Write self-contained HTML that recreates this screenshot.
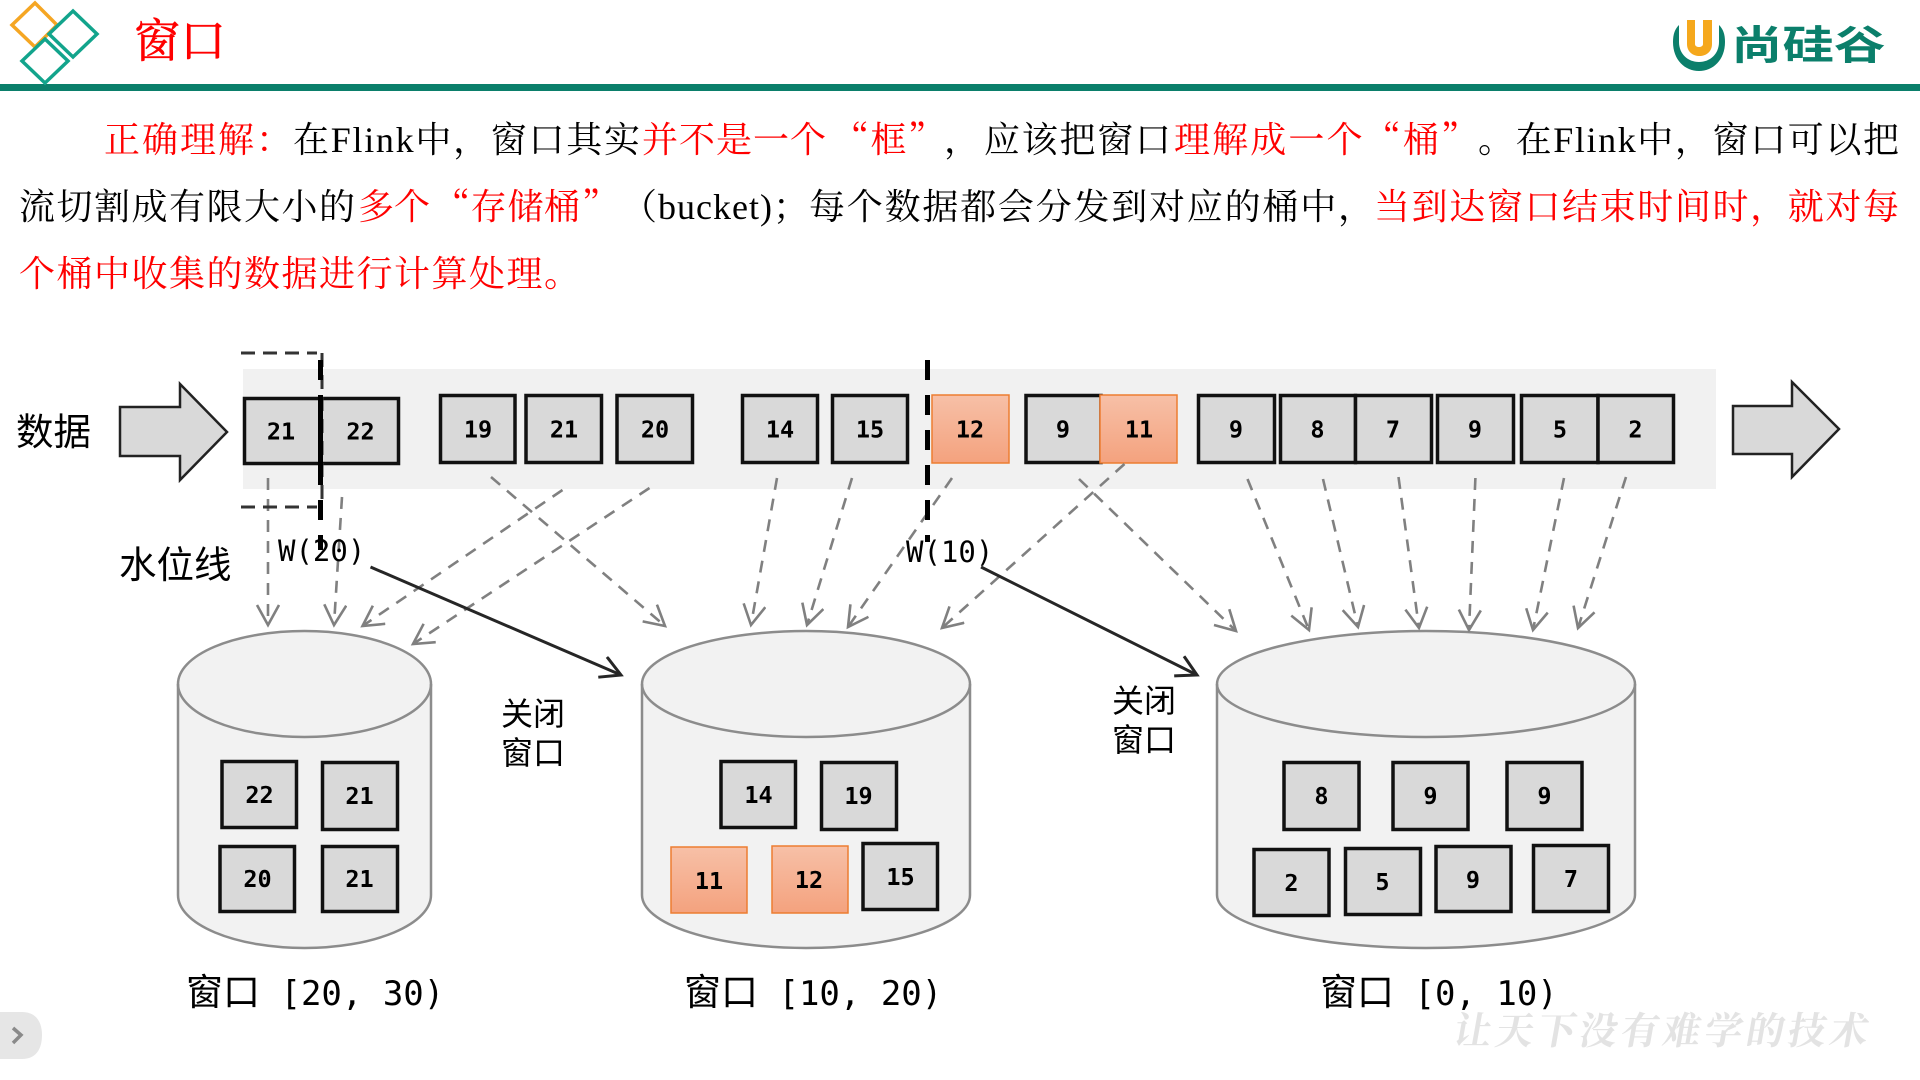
<!DOCTYPE html>
<html lang="zh-CN">
<head>
<meta charset="utf-8">
<title>窗口</title>
<style>
html,body{margin:0;padding:0;background:#fff;}
body{width:1920px;height:1080px;position:relative;overflow:hidden;}
svg{position:absolute;left:0;top:0;}
.p text{font-family:"Liberation Serif","Noto Serif CJK SC",serif;font-size:36px;fill:#000;}
.p text.r{fill:#f00;}
.p text.q,.p tspan.q{font-family:"Noto Serif CJK SC",serif;}
.b rect{fill:#d9d9d9;stroke:#111;stroke-width:3.5;}
.o rect{fill:url(#og);stroke:#ed7d31;stroke-width:1.5;}
.t text{font-family:"DejaVu Sans Mono",monospace;font-weight:bold;font-size:23.5px;text-anchor:middle;fill:#000;}
.d line{stroke:#808080;stroke-width:2.6;stroke-dasharray:12 9;marker-end:url(#mg);}
.lb{font-family:"Liberation Sans","Noto Sans CJK SC",sans-serif;fill:#000;}
.m{font-family:"DejaVu Sans Mono",monospace;fill:#000;}
.cap{font-family:"DejaVu Sans Mono","Noto Sans CJK SC",monospace;font-size:34px;fill:#000;}
.cj{font-family:"Noto Sans CJK SC",sans-serif;font-size:37px;}
</style>
</head>
<body>
<svg width="1920" height="1080" viewBox="0 0 1920 1080" xmlns="http://www.w3.org/2000/svg">
<defs>
<linearGradient id="og" x1="0" y1="0" x2="0" y2="1"><stop offset="0" stop-color="#f7c0a7"/><stop offset="1" stop-color="#f4a27e"/></linearGradient>
<marker id="mg" markerUnits="userSpaceOnUse" markerWidth="32" markerHeight="32" refX="22" refY="12" orient="auto"><path d="M2 1 L22 12 L2 23" fill="none" stroke="#808080" stroke-width="2.6"/></marker>
<marker id="mk" markerUnits="userSpaceOnUse" markerWidth="32" markerHeight="32" refX="22" refY="12" orient="auto"><path d="M2 1 L22 12 L2 23" fill="none" stroke="#262626" stroke-width="3"/></marker>
</defs>

<!-- header -->
<rect x="0" y="84" width="1920" height="7" fill="#0b7f6b"/>
<polygon points="35,3 57,25 35,47 12,25" fill="none" stroke="#f5a623" stroke-width="3.5"/>
<polygon points="73,11 97,34 73,57 49,34" fill="none" stroke="#12a48c" stroke-width="3.5"/>
<polygon points="45,39 68,61 45,83 22,61" fill="none" stroke="#12a48c" stroke-width="3.5"/>
<text x="134" y="57" font-family="'Noto Serif CJK SC',serif" font-size="46" fill="#f00" stroke="#f00" stroke-width="0.6">窗口</text>

<!-- logo -->
<path d="M1673 42 C1673 60 1685 71 1699 71 C1713 71 1725 60 1725 42 C1725 34 1723 29 1719 25 L1719 42 C1719 54 1710 62 1699 62 C1688 62 1679 54 1679 42 L1679 25 C1675 29 1673 34 1673 42 Z" fill="#0b7f6b"/>
<path d="M1687 20 L1695 20 L1695 44 C1695 48 1703 48 1703 44 L1703 20 L1712 20 L1712 44 C1712 60 1687 60 1687 44 Z" fill="#f5a81c"/>
<text transform="translate(1731 59) scale(1.03 .8)" x="0" y="0" font-family="'Noto Sans CJK SC',sans-serif" font-weight="bold" font-size="50" fill="#0b7f6b">尚硅谷</text>

<!-- paragraph -->
<g class="p">
<text class="r" x="104" y="152" textLength="188">正确理解：</text>
<text x="293" y="152" textLength="347">在Flink中，窗口其实</text>
<text class="r" x="642" y="152" textLength="184">并不是一个</text>
<text class="r q" x="833" y="152" textLength="111">“框”</text>
<text class="q" x="944" y="152">，</text>
<text x="984" y="152" textLength="187">应该把窗口</text>
<text class="r" x="1174" y="152" textLength="303">理解成一个<tspan class="q">“</tspan>桶<tspan class="q">”</tspan></text>
<text x="1478" y="152" textLength="421">。在Flink中，窗口可以把</text>

<text x="19" y="219" textLength="336">流切割成有限大小的</text>
<text class="r" x="358" y="219" textLength="72">多个</text>
<text class="r q" x="434" y="219" textLength="146">“存储桶</text>
<text class="r q" x="582" y="219">”</text>
<text x="621" y="219" textLength="188">（bucket)；</text>
<text x="809" y="219" textLength="565">每个数据都会分发到对应的桶中，</text>
<text class="r" x="1374" y="219" textLength="525">当到达窗口结束时间时，就对每</text>

<text class="r" x="19" y="286" textLength="561">个桶中收集的数据进行计算处理。</text>
</g>

<!-- band -->
<rect x="243" y="369" width="1473" height="120" fill="#f1f1f1"/>

<!-- big arrows -->
<polygon points="120,407 180,407 180,384 227,432 180,480 180,456 120,456" fill="#d9d9d9" stroke="#222" stroke-width="2.5"/>
<polygon points="1733,406 1792,406 1792,382 1839,429 1792,477 1792,454 1733,454" fill="#d9d9d9" stroke="#222" stroke-width="2.5"/>

<!-- cylinders -->
<g fill="#f2f2f2" stroke="#8c8c8c" stroke-width="2.5">
<path d="M178 684 A126.500 53 0 0 1 431 684 L431 895 A126.500 53 0 0 1 178 895 Z"/>
<path d="M178 684 A126.500 53 0 0 0 431 684" fill="none"/>
<path d="M642 684 A164 53 0 0 1 970 684 L970 895 A164 53 0 0 1 642 895 Z"/>
<path d="M642 684 A164 53 0 0 0 970 684" fill="none"/>
<path d="M1217 684 A209 53 0 0 1 1635 684 L1635 895 A209 53 0 0 1 1217 895 Z"/>
<path d="M1217 684 A209 53 0 0 0 1635 684" fill="none"/>
</g>

<!-- stream boxes -->
<g class="b">
<rect x="244.500" y="398.500" width="75.500" height="65"/>
<rect x="320" y="398.500" width="78.500" height="65"/>
<rect x="440.500" y="395.500" width="74.500" height="67"/>
<rect x="526" y="395.500" width="75.500" height="67"/>
<rect x="617" y="395.500" width="75.500" height="67"/>
<rect x="742.500" y="395.500" width="75" height="67"/>
<rect x="832.500" y="395.500" width="75" height="67"/>
<rect x="1026" y="395.500" width="75" height="67"/>
<rect x="1198.500" y="395.500" width="76" height="67"/>
<rect x="1280.500" y="395.500" width="75" height="67"/>
<rect x="1355.500" y="395.500" width="76" height="67"/>
<rect x="1437.500" y="395.500" width="76" height="67"/>
<rect x="1521.500" y="395.500" width="76.500" height="67"/>
<rect x="1598" y="395.500" width="75.500" height="67"/>
</g>
<g class="o">
<rect x="932" y="395" width="77" height="68"/>
<rect x="1100" y="395" width="77" height="68"/>
</g>

<!-- bucket boxes -->
<g class="b">
<rect x="222" y="761.500" width="74.500" height="66"/>
<rect x="322.500" y="762.500" width="75" height="67"/>
<rect x="220" y="846.500" width="74.500" height="65"/>
<rect x="322.500" y="846.500" width="75" height="65"/>
<rect x="721" y="761.500" width="74.500" height="66"/>
<rect x="821.500" y="762.500" width="75" height="67"/>
<rect x="863" y="843.500" width="74.500" height="66"/>
<rect x="1284" y="762.500" width="75" height="67"/>
<rect x="1393" y="762.500" width="75" height="67"/>
<rect x="1507" y="762.500" width="75" height="67"/>
<rect x="1254" y="849.500" width="75" height="66"/>
<rect x="1345.500" y="848.500" width="75" height="66"/>
<rect x="1436" y="846.500" width="75" height="65"/>
<rect x="1533.500" y="845.500" width="75" height="66"/>
</g>
<g class="o">
<rect x="671" y="847" width="76" height="66"/>
<rect x="772" y="846" width="76" height="67"/>
</g>

<!-- box labels -->
<g class="t">
<text x="281" y="439.500">21</text>
<text x="360.500" y="439.500">22</text>
<text x="478" y="437.500">19</text>
<text x="564" y="437.500">21</text>
<text x="655" y="437.500">20</text>
<text x="780" y="437.500">14</text>
<text x="870" y="437.500">15</text>
<text x="970" y="437.500">12</text>
<text x="1063" y="437.500">9</text>
<text x="1139" y="437.500">11</text>
<text x="1236" y="437.500">9</text>
<text x="1317.500" y="437.500">8</text>
<text x="1393" y="437.500">7</text>
<text x="1475" y="437.500">9</text>
<text x="1560" y="437.500">5</text>
<text x="1635.500" y="437.500">2</text>

<text x="259.500" y="803">22</text>
<text x="359.500" y="804">21</text>
<text x="257.500" y="887">20</text>
<text x="359.500" y="887">21</text>
<text x="758.500" y="803">14</text>
<text x="858.500" y="804">19</text>
<text x="709" y="889">11</text>
<text x="809" y="888">12</text>
<text x="900.500" y="885">15</text>
<text x="1321.500" y="804">8</text>
<text x="1430.500" y="804">9</text>
<text x="1544.500" y="804">9</text>
<text x="1291.500" y="891">2</text>
<text x="1382.500" y="890">5</text>
<text x="1473" y="888">9</text>
<text x="1571" y="887">7</text>
</g>

<!-- dashed grey arrows -->
<g class="d">
<line x1="268" y1="478" x2="268" y2="625"/>
<line x1="342" y1="497" x2="334" y2="625"/>
<line x1="562.500" y1="490" x2="362.500" y2="626"/>
<line x1="649.500" y1="488" x2="413" y2="644"/>
<line x1="491" y1="477" x2="665" y2="626"/>
<line x1="777" y1="478" x2="751" y2="625"/>
<line x1="852" y1="478" x2="807" y2="625"/>
<line x1="952" y1="478" x2="848" y2="627"/>
<line x1="1124.500" y1="464" x2="942" y2="628"/>
<line x1="1079" y1="479" x2="1236" y2="631"/>
<line x1="1247.500" y1="479" x2="1309" y2="630"/>
<line x1="1323" y1="479" x2="1358" y2="627"/>
<line x1="1398.500" y1="477" x2="1419" y2="628"/>
<line x1="1475.400" y1="478" x2="1469" y2="630"/>
<line x1="1564" y1="478" x2="1533" y2="630"/>
<line x1="1626" y1="477" x2="1578" y2="628"/>
</g>

<!-- brace and watermark lines -->
<g stroke="#333" stroke-width="3" stroke-dasharray="14 8" fill="none">
<line x1="241" y1="353" x2="317" y2="353"/>
<line x1="241" y1="507" x2="317" y2="507"/>
<line x1="322" y1="353" x2="322" y2="507"/>
</g>
<line x1="320.500" y1="360" x2="320.500" y2="550" stroke="#000" stroke-width="5" stroke-dasharray="20 15"/>
<line x1="320.500" y1="397" x2="320.500" y2="465" stroke="#000" stroke-width="5"/>
<line x1="927.500" y1="360" x2="927.500" y2="542" stroke="#000" stroke-width="5" stroke-dasharray="20 15"/>

<!-- solid arrows -->
<line x1="370.500" y1="567" x2="621" y2="675" stroke="#262626" stroke-width="3" marker-end="url(#mk)"/>
<line x1="981" y1="567" x2="1197" y2="675" stroke="#262626" stroke-width="3" marker-end="url(#mk)"/>

<!-- labels -->
<text class="lb" x="16" y="445" font-size="37.500">数据</text>
<text class="lb" x="119" y="578" font-size="37.500">水位线</text>
<text class="m" x="278" y="561" font-size="29">W(20)</text>
<text class="m" x="906" y="562" font-size="29">W(10)</text>
<text class="lb" x="501" y="725" font-size="32">关闭</text>
<text class="lb" x="501" y="764" font-size="32">窗口</text>
<text class="lb" x="1112" y="712" font-size="32">关闭</text>
<text class="lb" x="1112" y="751" font-size="32">窗口</text>

<text class="cap" x="186" y="1005"><tspan class="cj">窗口</tspan> [20, 30)</text>
<text class="cap" x="684" y="1005"><tspan class="cj">窗口</tspan> [10, 20)</text>
<text class="cap" x="1320" y="1005"><tspan class="cj">窗口</tspan> [0, 10)</text>

<!-- page pill -->
<path d="M0 1012 L22 1012 C36 1012 42 1022 42 1035 C42 1049 36 1059 22 1059 L0 1059 Z" fill="#e6e6e6"/>
<path d="M13 1028 L21 1035 L13 1043" fill="none" stroke="#8a8a8a" stroke-width="3.500"/>

<!-- slogan -->
<text transform="translate(1452 1044) skewX(-10)" x="0" y="0" font-family="'Noto Serif CJK SC',serif" font-weight="bold" font-size="38" letter-spacing="3.800" fill="#e3e3e3">让天下没有难学的技术</text>
</svg>
</body>
</html>
